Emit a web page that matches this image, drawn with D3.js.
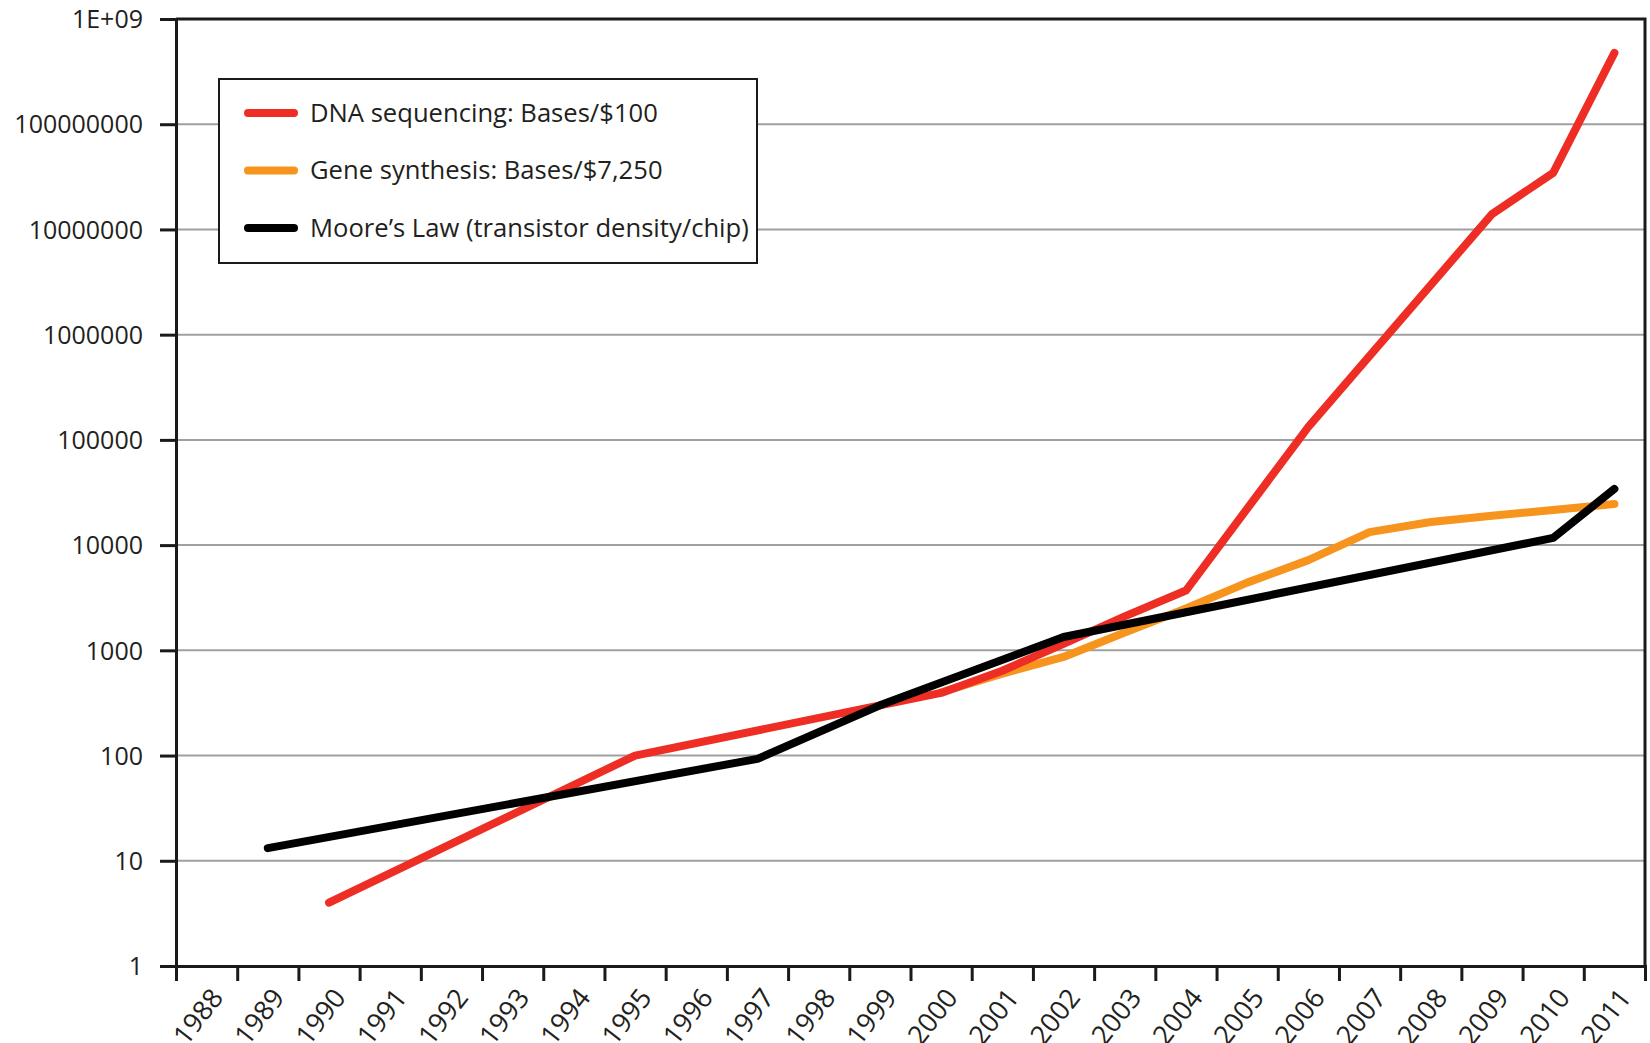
<!DOCTYPE html>
<html>
<head>
<meta charset="utf-8">
<script src="https://cdn.jsdelivr.net/npm/d3@7"></script>
<style>
  body { margin: 0; background: #fff; }
  svg text { font-family: "Open Sans", sans-serif; fill: #231f20; }
</style>
</head>
<body>
<svg id="chart" width="1650" height="1043"></svg>
<script>
var years = [1988, 1989, 1990, 1991, 1992, 1993, 1994, 1995, 1996, 1997, 1998, 1999,
             2000, 2001, 2002, 2003, 2004, 2005, 2006, 2007, 2008, 2009, 2010, 2011];

var yTicks = [1, 10, 100, 1000, 10000, 100000, 1000000, 10000000, 100000000, 1000000000];
var yLabels = ["1", "10", "100", "1000", "10000", "100000", "1000000", "10000000", "100000000", "1E+09"];

// DNA sequencing: Bases/$100
var dnaYears  = [1990, 1995, 1999, 2000, 2001, 2002, 2003, 2004, 2006, 2009, 2010, 2011];
var dnaValues = [4, 100, 300, 394, 640, 1150, 2100, 3700, 133000, 14000000, 34500000, 477000000];

// Gene synthesis: Bases/$7,250
var geneYears  = [2000, 2001, 2002, 2003, 2004, 2005, 2006, 2007, 2008, 2009, 2010, 2011];
var geneValues = [400, 600, 865, 1480, 2500, 4400, 7200, 13300, 16600, 19000, 21600, 24600];

// Moore's Law (transistor density/chip)
var mooreYears  = [1989, 1997, 1999, 2002, 2010, 2011];
var mooreValues = [13.2, 93, 300, 1340, 11700, 34200];

var seriesNames = ["DNA sequencing: Bases/$100", "Gene synthesis: Bases/$7,250", "Moore\u2019s Law (transistor density/chip)"];
var seriesColors = ["#ee2e24", "#f7941d", "#000000"];

// note: "top" is taken by window.top, so use other names
var plotLeft = 176, plotRight = 1645, plotTop = 19, plotBottom = 966;

var svg = d3.select("#chart");

var x = d3.scaleLinear()
    .domain([1988, 2012])
    .range([plotLeft, plotRight]);

var y = d3.scaleLog()
    .domain([1, 1e9])
    .range([plotBottom, plotTop]);

// gridlines
svg.append("g")
    .selectAll("line")
    .data(yTicks.slice(1, -1))
    .enter()
    .append("line")
    .attr("x1", plotLeft)
    .attr("x2", plotRight)
    .attr("y1", function (d) { return y(d); })
    .attr("y2", function (d) { return y(d); })
    .style("stroke", "#a0a0a0")
    .style("stroke-width", 2);

// plot frame (top + right)
svg.append("path")
    .attr("d", "M" + plotLeft + "," + plotTop + "H" + plotRight + "V" + plotBottom)
    .style("fill", "none")
    .style("stroke", "#1a1a1a")
    .style("stroke-width", 3);

// y axis
var yAxis = svg.append("g")
    .attr("transform", "translate(" + plotLeft + ",0)")
    .call(d3.axisLeft(y)
        .tickValues(yTicks)
        .tickFormat(function (d, i) { return yLabels[i]; })
        .tickSize(16)
        .tickPadding(17));

yAxis.selectAll("text")
    .style("font-size", "25px")
    .attr("dy", "0.35em");

// x axis: ticks on year boundaries, labels in the middle of each year
var xAxis = svg.append("g")
    .attr("transform", "translate(0," + plotBottom + ")")
    .call(d3.axisBottom(x)
        .tickValues(years.concat([2012]))
        .tickFormat("")
        .tickSize(15));

svg.append("g")
    .selectAll("text")
    .data(years)
    .enter()
    .append("text")
    .attr("transform", function (d) {
        return "translate(" + (x(d + 0.5) + 18) + "," + (plotBottom + 32) + ") rotate(-52)";
    })
    .attr("text-anchor", "end")
    .style("font-size", "27px")
    .text(function (d) { return d; });

svg.selectAll(".domain, .tick line")
    .style("stroke", "#1a1a1a")
    .style("stroke-width", 3);

// lines
var line = d3.line()
    .x(function (d) { return x(d[0] + 0.5); })
    .y(function (d) { return y(d[1]); });

var allSeries = [
    d3.zip(dnaYears, dnaValues),
    d3.zip(geneYears, geneValues),
    d3.zip(mooreYears, mooreValues)
];

// draw orange first, then red, then black on top
[1, 0, 2].forEach(function (i) {
    svg.append("path")
        .datum(allSeries[i])
        .attr("d", line)
        .style("fill", "none")
        .style("stroke", seriesColors[i])
        .style("stroke-width", 8)
        .style("stroke-linecap", "round")
        .style("stroke-linejoin", "round");
});

// legend
var legend = svg.append("g");

legend.append("rect")
    .attr("x", 219)
    .attr("y", 79)
    .attr("width", 538)
    .attr("height", 184)
    .style("fill", "#fff")
    .style("stroke", "#1a1a1a")
    .style("stroke-width", 2);

var items = legend.selectAll("g.item")
    .data(seriesNames)
    .enter()
    .append("g")
    .attr("transform", function (d, i) { return "translate(0," + (113 + i * 57.5) + ")"; });

items.append("line")
    .attr("x1", 248)
    .attr("x2", 294)
    .style("stroke", function (d, i) { return seriesColors[i]; })
    .style("stroke-width", 8)
    .style("stroke-linecap", "round");

items.append("text")
    .attr("x", 310)
    .attr("dy", "0.35em")
    .style("font-size", "25.6px")
    .text(function (d) { return d; });
</script>
</body>
</html>
